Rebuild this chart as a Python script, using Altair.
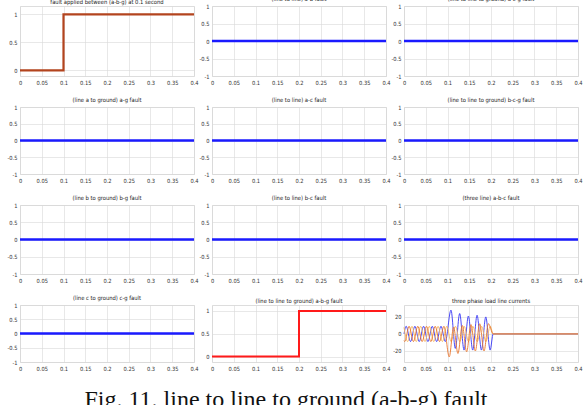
import altair as alt
import pandas as pd

NARROW = "Liberation Sans Narrow, DejaVu Sans Condensed, Arial, sans-serif"

X_TICKS = [0, 0.05, 0.1, 0.15, 0.2, 0.25, 0.3, 0.35, 0.4]
Y_TICKS_UNIT = [-1, -0.5, 0, 0.5, 1]
Y_TICKS_STEP = [0, 0.5, 1]
Y_TICKS_CUR = [-20, 0, 20]

TITLES = [
    "fault applied between (a-b-g)  at 0.1 second",
    "(line to line) a-b fault",
    "(line to line to ground) a-c-g fault",
    "(line a to ground) a-g fault",
    "(line to line) a-c  fault",
    "(line to line to ground) b-c-g fault",
    "(line b to ground) b-g fault",
    "(line to line) b-c fault",
    "(three line) a-b-c  fault",
    "(line c to ground) c-g fault",
    "(line to line to ground) a-b-g fault",
    "three phase load line currents",
]
CAPTION = "Fig. 11. line to line to ground (a-b-g) fault"

# flat (no fault) signals
flat_t = [0, 0.4]
flat_v = [0, 0]

# fault signal a-b-g at 0.1 s
step1_t = [0, 0.1, 0.1, 0.4]
step1_v = [0, 0, 1, 1]

# a-b-g fault indicator at 0.2 s
step2_t = [0, 0.2, 0.2, 0.4]
step2_v = [0, 0, 1, 1]

# three phase load line currents (extrema)
ia_t = [0, 0.005, 0.015, 0.025, 0.035, 0.045, 0.055, 0.065, 0.075, 0.085, 0.095,
        0.108, 0.118, 0.128, 0.138, 0.148, 0.158, 0.168, 0.178, 0.188, 0.198, 0.205, 0.4]
ia_v = [0, 9, -9, 9, -9, 9, -9, 9, -9, 9, -9,
        28, -17, 24, -19, 21, -19, 22, -19, 20, -19, 0, 0]

ib_t = [0, 0.0017, 0.0117, 0.0217, 0.0317, 0.0417, 0.0517, 0.0617, 0.0717, 0.0817, 0.0917,
        0.104, 0.114, 0.124, 0.134, 0.144, 0.154, 0.164, 0.174, 0.184, 0.194, 0.205, 0.4]
ib_v = [-7.8, -9, 9, -9, 9, -9, 9, -9, 9, -9, 9,
        -27, 8, -23, 10, -21, 11, -20, 12, -20, 12, 0, 0]

ic_t = [0, 0.0083, 0.0183, 0.0283, 0.0383, 0.0483, 0.0583, 0.0683, 0.0783, 0.0883, 0.0983,
        0.1083, 0.1183, 0.1283, 0.1383, 0.1483, 0.1583, 0.1683, 0.1783, 0.1883, 0.1983, 0.205, 0.4]
ic_v = [7.8, -9, 9, -9, 9, -9, 9, -9, 9, -9, 9,
        -9, 9, -9, 9, -9, 9, -9, 9, -9, 9, 0, 0]

W = 174
ROW_H = [70, 67, 69, 57]


def frame(t, v):
    return pd.DataFrame({"t": t, "v": v, "i": list(range(len(t)))})


def x_enc():
    return alt.X("t:Q", scale=alt.Scale(domain=[0, 0.4], nice=False, zero=False),
                 axis=alt.Axis(values=X_TICKS, labelExpr="'' + datum.value", title=None,
                               grid=True, gridColor="#d8d8d8", gridWidth=0.6,
                               domain=False, ticks=False, labelFontSize=5.7, labelFont=NARROW,
                               labelColor="#333333", labelPadding=3, labelFlush=False,
                               labelOverlap=False))


def y_enc(domain, ticks):
    return alt.Y("v:Q", scale=alt.Scale(domain=domain, nice=False, zero=False),
                 axis=alt.Axis(values=ticks, labelExpr="'' + datum.value", title=None,
                               grid=True, gridColor="#d8d8d8", gridWidth=0.6,
                               domain=False, ticks=False, labelFontSize=5.7, labelFont=NARROW,
                               labelColor="#333333", labelPadding=3, labelOverlap=False))


def title(text):
    return alt.TitleParams(text, fontSize=5.8, font=NARROW, fontWeight="normal",
                           offset=1, anchor="middle", color="#222222")


def line_panel(t, v, ttl, h, domain, ticks, color, sw):
    return alt.Chart(frame(t, v)).mark_line(color=color, strokeWidth=sw).encode(
        x=x_enc(), y=y_enc(domain, ticks), order="i:Q"
    ).properties(width=W, height=h, title=title(ttl))


def flat_panel(ttl, h):
    return line_panel(flat_t, flat_v, ttl, h, [-1, 1], Y_TICKS_UNIT, "#1a1aff", 2.5)


def current_layer(t, v, color):
    return alt.Chart(frame(t, v)).mark_line(color=color, strokeWidth=0.9,
                                            interpolate="monotone").encode(
        x=x_enc(), y=y_enc([-33, 34], Y_TICKS_CUR), order="i:Q")


p1 = line_panel(step1_t, step1_v, TITLES[0], ROW_H[0], [-0.1, 1.15], Y_TICKS_STEP, "#b3441e", 2.2)
p2 = flat_panel(TITLES[1], ROW_H[0])
p3 = flat_panel(TITLES[2], ROW_H[0])
p4 = flat_panel(TITLES[3], ROW_H[1])
p5 = flat_panel(TITLES[4], ROW_H[1])
p6 = flat_panel(TITLES[5], ROW_H[1])
p7 = flat_panel(TITLES[6], ROW_H[2])
p8 = flat_panel(TITLES[7], ROW_H[2])
p9 = flat_panel(TITLES[8], ROW_H[2])
p10 = flat_panel(TITLES[9], ROW_H[3])

p11_line = alt.Chart(frame(step2_t, step2_v)).mark_line(color="#ff1a1a", strokeWidth=2).encode(
    x=x_enc(), y=y_enc([-0.12, 1.13], Y_TICKS_STEP), order="i:Q")
cap = alt.Chart(pd.DataFrame({"c": [CAPTION]})).mark_text(
    font="Liberation Serif", fontSize=24, align="center", baseline="alphabetic",
    color="#111111").encode(text="c:N", x=alt.value(74), y=alt.value(102))
p11 = alt.layer(p11_line, cap).properties(width=W, height=ROW_H[3], title=title(TITLES[10]))

p12 = alt.layer(
    current_layer(ia_t, ia_v, "#3535f5"),
    current_layer(ic_t, ic_v, "#f5b860"),
    current_layer(ib_t, ib_v, "#e8752e"),
).properties(width=W, height=ROW_H[3], title=title(TITLES[11]))

chart = alt.concat(
    p1, p2, p3, p4, p5, p6, p7, p8, p9, p10, p11, p12,
    columns=3, spacing={"row": 31, "column": 18}, bounds="flush",
).properties(
    autosize=alt.AutoSizeParams(type="none"),
    padding={"left": 20, "top": 6, "right": 566, "bottom": 399},
).configure_view(stroke="#555555", strokeWidth=0.8).configure(background="white")

chart.save("out.html", embed_options={"renderer": "svg", "actions": False})
